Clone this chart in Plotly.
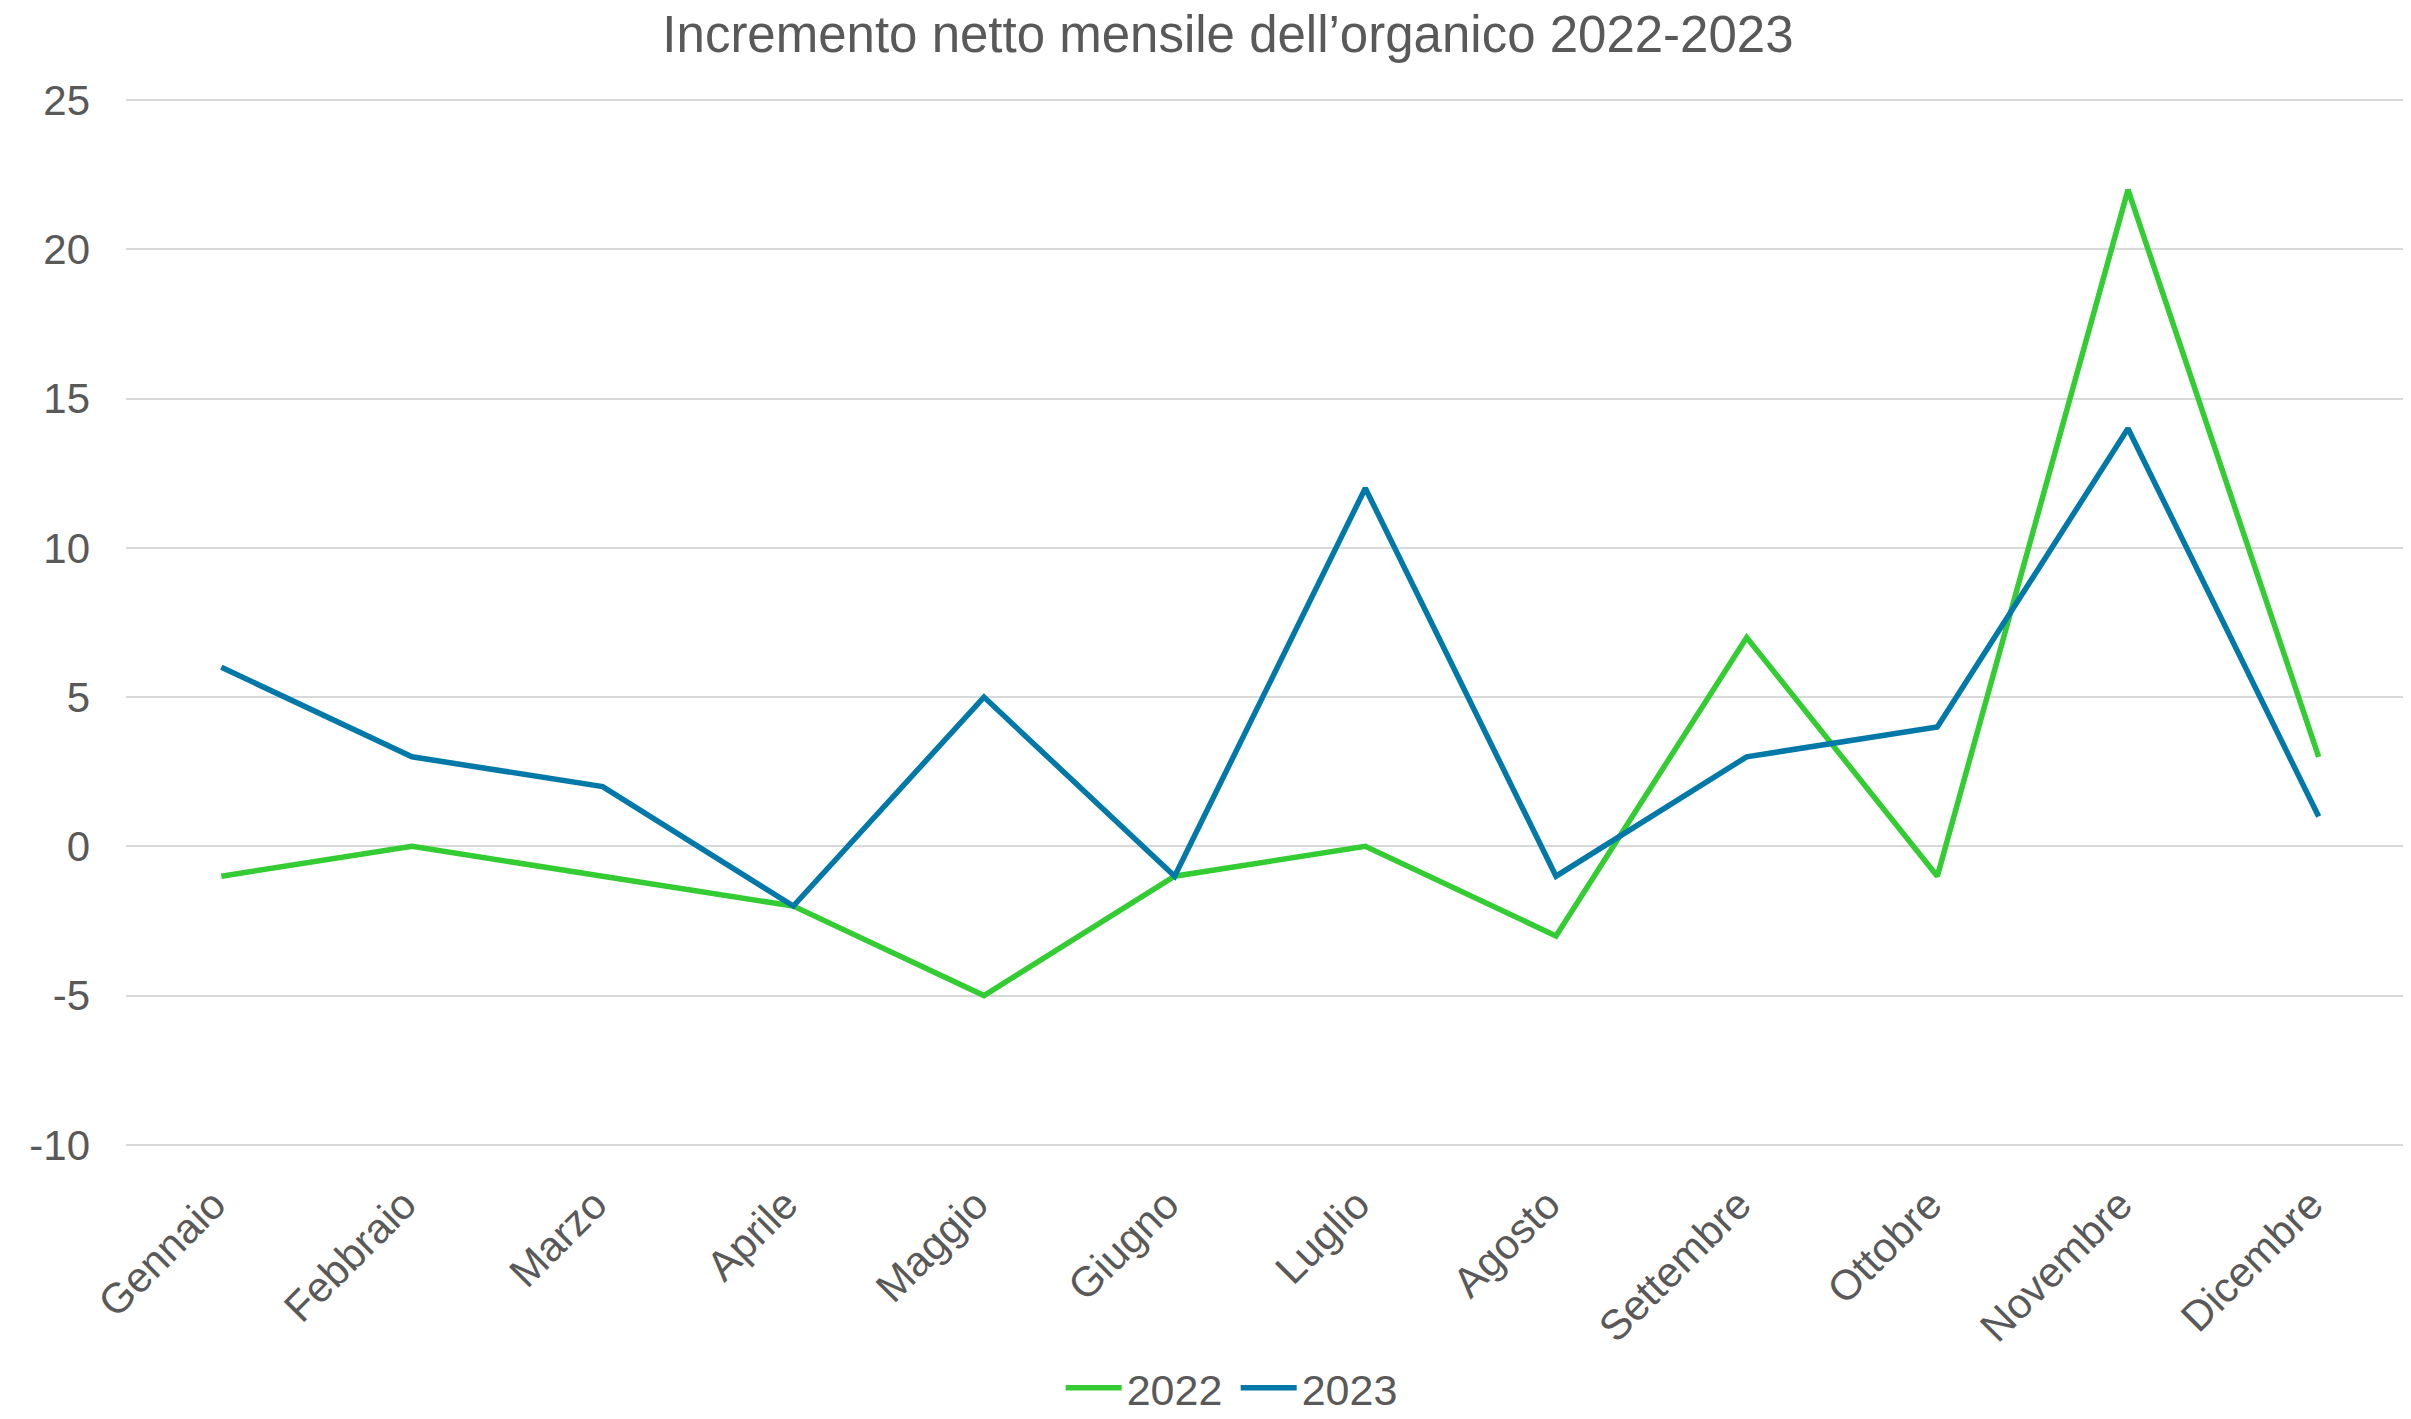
import plotly.graph_objects as go

months = ["Gennaio", "Febbraio", "Marzo", "Aprile", "Maggio", "Giugno",
          "Luglio", "Agosto", "Settembre", "Ottobre", "Novembre", "Dicembre"]
values_2022 = [-1, 0, -1, -2, -5, -1, 0, -3, 7, -1, 22, 3]
values_2023 = [6, 3, 2, -2, 5, -1, 12, -1, 3, 4, 14, 1]
y_ticks = [-10, -5, 0, 5, 10, 15, 20, 25]
y_tick_labels = ["-10", "-5", "0", "5", "10", "15", "20", "25"]

FONT = "Liberation Sans, Arial, sans-serif"
TEXT = "#595959"

W, H = 2411, 1419

fig = go.Figure()
fig.add_trace(go.Scatter(x=months, y=values_2022, mode="lines", name="2022",
                         line=dict(color="#33CC33", width=5.5)))
fig.add_trace(go.Scatter(x=months, y=values_2023, mode="lines", name="2023",
                         line=dict(color="#0079A8", width=5.5)))

fig.update_layout(
    width=W, height=H,
    margin=dict(l=118, r=5, t=91, b=255),
    paper_bgcolor="white", plot_bgcolor="white",
    font=dict(family=FONT, color=TEXT, size=42),
    title=dict(text="Incremento netto mensile dell’organico 2022-2023",
               x=0.506, xanchor="center", y=1 - 26 / H, yanchor="middle",
               yref="container", font=dict(size=51, color=TEXT, family=FONT)),
    showlegend=True,
    legend=dict(orientation="h", x=0.485, xanchor="center", y=-0.231, yanchor="middle",
                font=dict(size=43, color=TEXT), itemwidth=56,
                entrywidth=104, entrywidthmode="pixels",
                bgcolor="rgba(0,0,0,0)", traceorder="normal"),
    xaxis=dict(type="category", range=[-0.5, 11.5], tickangle=-45,
               showgrid=False, zeroline=False, showline=False, automargin=False,
               ticks="outside", ticklen=16, tickcolor="rgba(0,0,0,0)",
               ticklabelshift=-8,
               tickfont=dict(size=42, color=TEXT)),
    yaxis=dict(range=[-10.04, 25.04], tickvals=y_ticks, ticktext=y_tick_labels,
               showgrid=True, automargin=False,
               gridcolor="#D9D9D9", gridwidth=2, zeroline=False, showline=False,
               ticklabelstandoff=35, tickfont=dict(size=42, color=TEXT)),
)

fig.write_html("out.html")
